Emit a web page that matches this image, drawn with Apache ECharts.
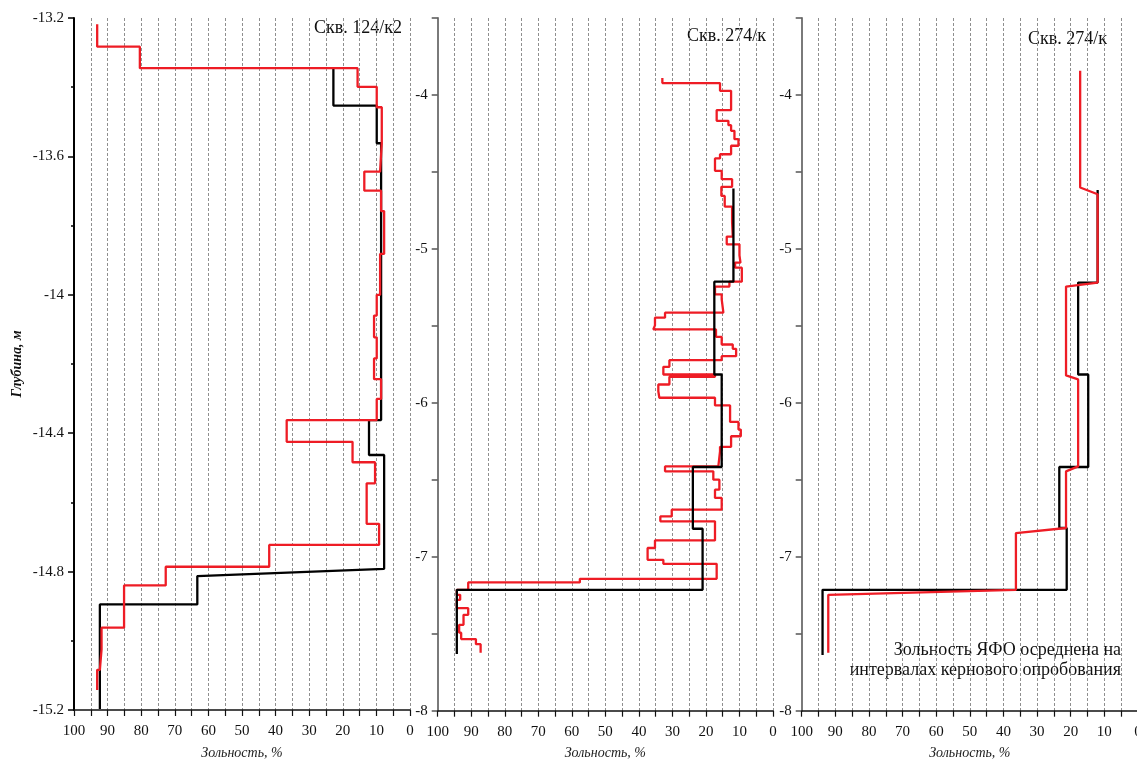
<!DOCTYPE html>
<html>
<head>
<meta charset="utf-8">
<script src="https://cdn.jsdelivr.net/npm/echarts@6/dist/echarts.min.js"></script>
<style>
html,body{margin:0;padding:0;background:#fff;}
#chart{width:1137px;height:761px;}
</style>
</head>
<body>
<div id="chart"></div>
<script>
// ---- Data (depth in m, ash content in %) ----
// Panel 1: Скв. 124/к2 — red (detailed) as step intervals
const p1RedBounds = [-13.218, -13.283, -13.345, -13.399, -13.458, -13.562, -13.644, -13.699, -13.758, -13.882,
  -14.0, -14.06, -14.123, -14.184, -14.244, -14.301, -14.362, -14.425, -14.484, -14.545,
  -14.662, -14.723, -14.786, -14.84, -14.962, -15.025, -15.084, -15.142];
const p1RedAsh = [93.1, 80.4, 15.6, 9.9, 8.4, 8.9, 13.6, 8.6, 7.7, 8.9,
  9.9, 10.7, 9.9, 10.7, 8.6, 9.9, 36.7, 17.1, 10.4, 12.9,
  9.2, 41.9, 72.7, 85.1, 91.8, 92.3, 93.1];
// Panel 1 black (averaged) as vertices
const p1BlackAsh = [22.8, 22.8, 9.9, 9.9, 8.6, 8.6, 12.2, 12.2, 7.7, 7.7, 63.3, 63.3, 92.3, 92.3];
const p1BlackDepth = [-13.345, -13.453, -13.453, -13.562, -13.562, -14.362, -14.362, -14.463, -14.463, -14.792, -14.813, -14.895, -14.895, -15.197];

// Panel 2: Скв. 274/к — red step intervals
const p2RedBounds = [-3.890, -3.923, -3.973, -4.098, -4.168, -4.196, -4.233, -4.287, -4.330, -4.385,
  -4.412, -4.493, -4.547, -4.597, -4.656, -4.725, -4.825, -4.920, -4.970, -5.042,
  -5.089, -5.122, -5.213, -5.245, -5.295, -5.328, -5.414, -5.447, -5.497, -5.523,
  -5.571, -5.621, -5.649, -5.697, -5.723, -5.766, -5.816, -5.831, -5.881, -5.925,
  -5.967, -6.017, -6.124, -6.174, -6.217, -6.286, -6.315, -6.413, -6.445, -6.499,
  -6.564, -6.618, -6.694, -6.738, -6.770, -6.894, -6.943, -7.020, -7.046, -7.143,
  -7.167, -7.215, -7.247, -7.280, -7.334, -7.377, -7.442, -7.493, -7.535, -7.568, -7.623];
const p2RedAsh = [33.0, 15.8, 12.5, 16.8, 13.3, 12.5, 11.5, 10.3, 12.5, 15.8,
  17.3, 15.3, 12.2, 15.4, 14.4, 12.2, 12.0, 13.8, 10.0, 9.7,
  11.3, 9.3, 13.0, 17.3, 15.3, 14.8, 32.2, 35.2, 35.7, 17.0,
  15.3, 12.0, 11.0, 15.3, 30.9, 32.7, 17.3, 30.9, 34.2, 33.9,
  17.3, 12.8, 10.3, 9.6, 12.5, 15.8, 16.3, 32.2, 17.8, 16.0,
  17.3, 15.3, 30.2, 33.6, 17.3, 35.2, 37.4, 32.7, 16.8, 57.6,
  90.9, 94.3, 93.3, 94.3, 90.9, 92.3, 93.6, 93.0, 88.6, 87.2];
// Panel 2 black step intervals
const p2BlackBounds = [-4.608, -5.213, -5.816, -6.417, -6.818, -7.215, -7.631];
const p2BlackAsh = [11.8, 17.5, 15.3, 23.9, 21.0, 94.3];

// Panel 3: Скв. 274/к (averaged over core intervals) — red vertices
const p3RedAsh = [17.2, 17.2, 12.0, 12.0, 21.4, 21.4, 17.8, 17.8, 21.4, 21.4, 36.3, 36.3, 92.1, 92.1];
const p3RedDepth = [-3.843, -4.601, -4.645, -5.219, -5.245, -5.822, -5.848, -6.413, -6.445, -6.813, -6.846, -7.215, -7.247, -7.623];
// Panel 3 black step intervals
const p3BlackBounds = [-4.617, -5.219, -5.816, -6.417, -6.813, -7.215, -7.638];
const p3BlackAsh = [12.0, 17.8, 14.8, 23.4, 21.2, 93.8];

const panelTitles = ['Скв. 124/к2', 'Скв. 274/к', 'Скв. 274/к'];
const noteLines = ['Зольность ЯФО осреднена на', 'интервалах кернового опробования'];
const xName = 'Зольность, %';
const yName = 'Глубина, м';

// ---- helpers ----
function steps(bounds, vals) {
  const pts = [];
  for (let i = 0; i < vals.length; i++) {
    pts.push([vals[i], bounds[i]]);
    pts.push([vals[i], bounds[i + 1]]);
  }
  return pts;
}
function zip(xs, ys) { return xs.map((x, i) => [x, ys[i]]); }

const SERIF = '"Liberation Serif", "Times New Roman", "DejaVu Serif", serif';
const RED = '#ee1c25';
const grids = [
  { left: 74, top: 18, width: 336, height: 692, outerBoundsMode: 'none', containLabel: false },
  { left: 437.7, top: 18, width: 335.3, height: 692.7, outerBoundsMode: 'none', containLabel: false },
  { left: 801.7, top: 18, width: 336.3, height: 692.7, outerBoundsMode: 'none', containLabel: false }
];

function xAxis(i) {
  return {
    type: 'value', gridIndex: i, min: 0, max: 100, interval: 5, inverse: true,
    name: xName, nameLocation: 'middle', nameGap: 36,
    nameTextStyle: { fontFamily: SERIF, fontStyle: 'italic', fontSize: 14, color: '#222' },
    axisLine: { show: true, onZero: false, lineStyle: { color: '#111', width: 1.6 } },
    axisTick: { show: true, inside: false, length: 6, lineStyle: { color: '#111', width: 1.2 } },
    axisLabel: {
      margin: 14, fontFamily: SERIF, fontSize: 15, color: '#111',
      formatter: v => (Math.round(v) % 10 === 0 ? String(Math.round(v)) : '')
    },
    splitLine: { show: true, lineStyle: { color: '#8f8f8f', width: 1, type: [3, 2] } }
  };
}
function yAxis(i) {
  const first = i === 0;
  return {
    type: 'value', gridIndex: i,
    min: first ? -15.2 : -8, max: first ? -13.2 : -3.5, interval: first ? 0.4 : 0.5,
    name: first ? yName : '', nameLocation: 'middle', nameGap: 50, nameRotate: 90,
    nameTextStyle: { fontFamily: SERIF, fontStyle: 'italic', fontWeight: 'bold', fontSize: 14, color: '#111' },
    axisLine: { show: true, onZero: false, lineStyle: { color: first ? '#000' : '#7a7a7a', width: 2 } },
    axisTick: { show: true, inside: false, length: 6, lineStyle: { color: first ? '#000' : '#555', width: 1.5 } },
    minorTick: { show: first, splitNumber: 2, length: 3, lineStyle: { color: '#000', width: 1.5 } },
    axisLabel: {
      margin: 10, fontFamily: SERIF, fontSize: 15, color: '#111',
      formatter: v => {
        const r = Math.round(v * 10) / 10;
        if (!first && Math.abs(r - Math.round(r)) > 1e-6) return '';
        return String(r);
      }
    },
    splitLine: { show: false }
  };
}
function line(i, data, color, z) {
  return {
    type: 'line', xAxisIndex: i, yAxisIndex: i, data: data,
    showSymbol: false, symbol: 'none', z: z, animation: false,
    lineStyle: { color: color, width: 2.3 }
  };
}

const chart = echarts.init(document.getElementById('chart'), null, { renderer: 'canvas' });
chart.setOption({
  animation: false,
  backgroundColor: '#fff',
  grid: grids,
  xAxis: [xAxis(0), xAxis(1), xAxis(2)],
  yAxis: [yAxis(0), yAxis(1), yAxis(2)],
  series: [
    line(0, zip(p1BlackAsh, p1BlackDepth), '#000', 2),
    line(0, steps(p1RedBounds, p1RedAsh), RED, 3),
    line(1, steps(p2RedBounds, p2RedAsh), RED, 2),
    line(1, steps(p2BlackBounds, p2BlackAsh), '#000', 3),
    line(2, steps(p3BlackBounds, p3BlackAsh), '#000', 2),
    line(2, zip(p3RedAsh, p3RedDepth), RED, 3)
  ],
  graphic: [
    { type: 'text', right: 1137 - 402, top: 19, style: { text: panelTitles[0], font: '18px ' + SERIF, fill: '#111' } },
    { type: 'text', right: 1137 - 766, top: 27, style: { text: panelTitles[1], font: '18px ' + SERIF, fill: '#111' } },
    { type: 'text', right: 1137 - 1107, top: 30, style: { text: panelTitles[2], font: '18px ' + SERIF, fill: '#111' } },
    { type: 'text', right: 1137 - 1121, top: 641, style: { text: noteLines[0], font: '18px ' + SERIF, fill: '#111' } },
    { type: 'text', right: 1137 - 1121, top: 661, style: { text: noteLines[1], font: '18px ' + SERIF, fill: '#111' } }
  ]
});
</script>
</body>
</html>
